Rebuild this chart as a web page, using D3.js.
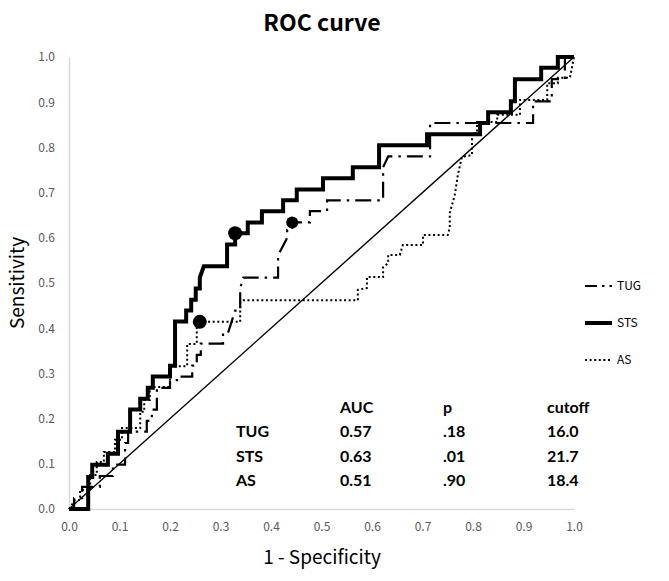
<!DOCTYPE html>
<html><head><meta charset="utf-8">
<script src="https://cdn.jsdelivr.net/npm/d3@7"></script>
<style>body{margin:0;background:#fff}</style>
</head><body>
<svg id="c" width="669" height="581"></svg>
<script>
// ---- data ----
const xTicks = [0,0.1,0.2,0.3,0.4,0.5,0.6,0.7,0.8,0.9,1.0];
const yTicks = [0,0.1,0.2,0.3,0.4,0.5,0.6,0.7,0.8,0.9,1.0];
const seriesNames = ["TUG","STS","AS"];
// ROC vertices: [1 - specificity, sensitivity]
const tugROC = [[0,0],[0.010,0],[0.010,0.024],[0.026,0.024],[0.026,0.049],[0.061,0.049],[0.061,0.073],[0.087,0.073],[0.087,0.098],[0.111,0.098],[0.111,0.146],[0.117,0.146],[0.117,0.171],[0.154,0.171],[0.154,0.195],[0.164,0.195],[0.164,0.220],[0.174,0.220],[0.174,0.268],[0.200,0.268],[0.200,0.285],[0.218,0.285],[0.218,0.293],[0.244,0.293],[0.244,0.317],[0.253,0.317],[0.253,0.341],[0.261,0.341],[0.261,0.366],[0.305,0.366],[0.305,0.390],[0.315,0.390],[0.329,0.439],[0.339,0.439],[0.339,0.488],[0.345,0.512],[0.414,0.512],[0.414,0.561],[0.432,0.600],[0.432,0.617],[0.442,0.617],[0.442,0.634],[0.477,0.634],[0.477,0.659],[0.511,0.659],[0.511,0.683],[0.622,0.683],[0.622,0.756],[0.632,0.780],[0.715,0.780],[0.715,0.854],[0.919,0.854],[0.919,0.902],[0.956,0.902],[0.956,0.951],[0.982,0.951],[0.982,1],[1,1]];
const stsROC = [[0,0],[0.038,0],[0.038,0.071],[0.046,0.071],[0.046,0.098],[0.077,0.098],[0.077,0.122],[0.097,0.122],[0.097,0.171],[0.121,0.171],[0.121,0.220],[0.141,0.220],[0.141,0.244],[0.156,0.244],[0.156,0.268],[0.166,0.268],[0.166,0.293],[0.200,0.293],[0.200,0.317],[0.210,0.317],[0.210,0.415],[0.232,0.415],[0.232,0.439],[0.242,0.439],[0.242,0.463],[0.251,0.463],[0.251,0.488],[0.259,0.488],[0.259,0.512],[0.267,0.537],[0.313,0.537],[0.313,0.585],[0.329,0.585],[0.329,0.610],[0.354,0.610],[0.354,0.634],[0.382,0.634],[0.382,0.659],[0.424,0.659],[0.424,0.683],[0.451,0.683],[0.451,0.707],[0.503,0.707],[0.503,0.732],[0.562,0.732],[0.562,0.756],[0.614,0.756],[0.614,0.805],[0.709,0.805],[0.709,0.829],[0.814,0.829],[0.814,0.854],[0.830,0.854],[0.830,0.878],[0.875,0.878],[0.875,0.902],[0.883,0.902],[0.883,0.951],[0.935,0.951],[0.935,0.976],[0.968,0.976],[0.968,1],[1,1]];
const asROC = [[0,0],[0.012,0.020],[0.022,0.020],[0.022,0.042],[0.042,0.042],[0.042,0.075],[0.055,0.075],[0.055,0.104],[0.069,0.104],[0.069,0.126],[0.091,0.126],[0.091,0.153],[0.105,0.153],[0.105,0.179],[0.141,0.179],[0.141,0.215],[0.149,0.215],[0.149,0.241],[0.160,0.241],[0.160,0.270],[0.200,0.270],[0.200,0.316],[0.234,0.316],[0.234,0.365],[0.253,0.365],[0.253,0.414],[0.339,0.414],[0.339,0.458],[0.345,0.462],[0.572,0.462],[0.572,0.485],[0.590,0.489],[0.590,0.513],[0.622,0.513],[0.622,0.535],[0.632,0.544],[0.632,0.562],[0.655,0.562],[0.661,0.584],[0.701,0.584],[0.701,0.606],[0.750,0.606],[0.754,0.622],[0.754,0.655],[0.764,0.695],[0.770,0.739],[0.778,0.779],[0.798,0.783],[0.798,0.832],[0.808,0.832],[0.808,0.856],[0.848,0.856],[0.848,0.872],[0.893,0.872],[0.893,0.905],[0.947,0.905],[0.947,0.942],[0.968,0.942],[0.968,0.954],[0.992,0.954],[1,1]];
const refLine = [[0,0],[1,1]];
// cutoff points [1 - specificity, sensitivity]
const cutoffPoints = [[0.442,0.634],[0.329,0.610],[0.259,0.414]];
// statistics table
const tableHeader = ["AUC","p","cutoff"];
const aucValues = ["0.57","0.63","0.51"];
const pValues = [".18",".01",".90"];
const cutoffValues = ["16.0","21.7","18.4"];

// ---- drawing ----
const svg = d3.select("#c");
const x = d3.scaleLinear().domain([0,1]).range([69,574]);
const y = d3.scaleLinear().domain([0,1]).range([509,57]);
const tickFont = "'Noto Sans CJK KR','Noto Sans',sans-serif";

const xa = svg.append("g").attr("transform","translate(0,509)")
  .call(d3.axisBottom(x).tickValues(xTicks).tickSize(0).tickPadding(13).tickFormat(d3.format(".1f")));
const ya = svg.append("g").attr("transform","translate(69,0)")
  .call(d3.axisLeft(y).tickValues(yTicks).tickSize(0).tickPadding(14).tickFormat(d3.format(".1f")));
[xa,ya].forEach(a=>{
  a.select(".domain").attr("stroke","#d9d9d9").attr("stroke-width",1.5);
  a.selectAll("text").attr("fill","#595959").style("font-family",tickFont).style("font-size","12px");
});

const line = d3.line().x(d=>x(d[0])).y(d=>y(d[1]));
svg.append("path").datum(refLine).attr("d",line).attr("fill","none").attr("stroke","#000").attr("stroke-width",1.4);

const styles = {
  TUG:{w:2.2,dash:"16,6,2.5,6"},
  STS:{w:4,dash:null},
  AS:{w:2,dash:"2,2.6"}
};
const dataMap = {TUG:tugROC, STS:stsROC, AS:asROC};
seriesNames.forEach(n=>{
  const p = svg.append("path").datum(dataMap[n]).attr("d",line).attr("fill","none")
    .attr("stroke","#000").attr("stroke-width",styles[n].w).attr("stroke-linejoin","miter");
  if(styles[n].dash) p.attr("stroke-dasharray",styles[n].dash);
});
svg.selectAll("circle.cut").data(cutoffPoints).enter().append("circle").attr("class","cut")
  .attr("cx",d=>x(d[0])).attr("cy",d=>y(d[1])).attr("r",(d,i)=>i===0?6:7).attr("fill","#000");

// title & axis titles
const labFont = "'Noto Sans CJK KR','Noto Sans',sans-serif";
svg.append("text").attr("x",322).attr("y",31).attr("text-anchor","middle")
  .style("font-family",labFont).style("font-weight","bold").style("font-size","23px").text("ROC curve");
svg.append("text").attr("transform","translate(24,283) rotate(-90)").attr("text-anchor","middle")
  .style("font-family",labFont).style("font-size","19px").text("Sensitivity");
svg.append("text").attr("x",322).attr("y",564).attr("text-anchor","middle")
  .style("font-family",labFont).style("font-size","19px").text("1 - Specificity");

// legend
const legY = d3.scalePoint().domain(seriesNames).range([286,360]);
const lg = svg.append("g");
seriesNames.forEach(n=>{
  const l = lg.append("line").attr("x1",585).attr("x2",612).attr("y1",legY(n)).attr("y2",legY(n))
    .attr("stroke","#000").attr("stroke-width",styles[n].w);
  if(styles[n].dash) l.attr("stroke-dasharray",n==="TUG"?"12,5,2.5,5":styles[n].dash);
  lg.append("text").attr("x",617).attr("y",legY(n)).attr("dy","0.35em")
    .style("font-family",labFont).style("font-size","12px").attr("fill","#000").text(n);
});

// stats table
const tFont = "Lato,'Open Sans',sans-serif";
const rowY = d3.scalePoint().domain(["h"].concat(seriesNames)).range([413,486]);
const colX = {label:236, AUC:340, p:443, cutoff:547};
const tg = svg.append("g").style("font-family",tFont).style("font-weight","bold").style("font-size","16px");
tableHeader.forEach(h=>tg.append("text").attr("x",colX[h]).attr("y",rowY("h")).text(h));
seriesNames.forEach((n,i)=>{
  tg.append("text").attr("x",colX.label).attr("y",rowY(n)).text(n);
  tg.append("text").attr("x",colX.AUC).attr("y",rowY(n)).text(aucValues[i]);
  tg.append("text").attr("x",colX.p).attr("y",rowY(n)).text(pValues[i]);
  tg.append("text").attr("x",colX.cutoff).attr("y",rowY(n)).text(cutoffValues[i]);
});
</script>
</body></html>
